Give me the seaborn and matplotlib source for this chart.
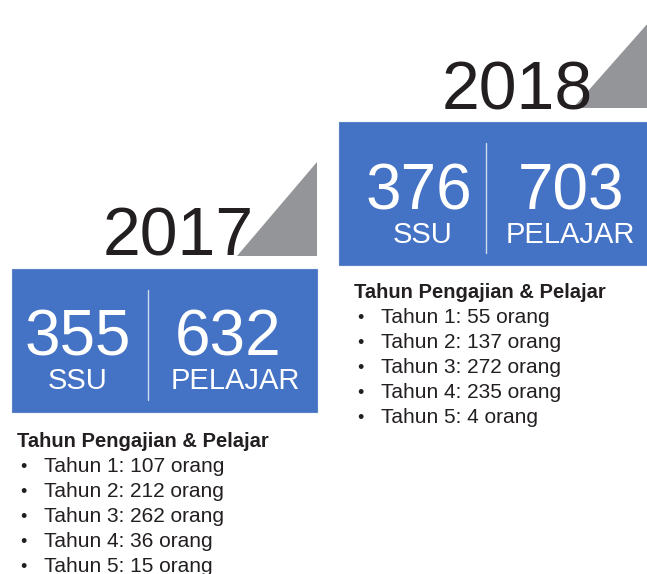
import matplotlib
matplotlib.use("Agg")
import matplotlib.pyplot as plt
from matplotlib.patches import Rectangle, Polygon
import seaborn as sns

# ---- data ----
years = ["2017", "2018"]
ssu_counts = [355, 376]
pelajar_counts = [632, 703]
list_title = "Tahun Pengajian & Pelajar"
study_years = ["Tahun 1", "Tahun 2", "Tahun 3", "Tahun 4", "Tahun 5"]
students_2017 = [107, 212, 262, 36, 15]
students_2018 = [55, 137, 272, 235, 4]
students_by_year = [students_2017, students_2018]

sns.set_theme(style="white")
plt.rcParams['font.family'] = ['Liberation Sans', 'DejaVu Sans']

W, H = 647, 574
fig = plt.figure(figsize=(W / 100, H / 100), dpi=100)
ax = fig.add_axes([0, 0, 1, 1])
ax.set_xlim(0, W)
ax.set_ylim(H, 0)
ax.axis("off")

BLUE = "#4472C4"
GRAY = "#939598"
DARK = "#231F20"

# layout for each panel (pixel coordinates)
panels = [
    dict(box=(12, 269, 317, 412), div_x=148, div_y=(290, 400),
         tri=[(317, 162), (317, 256), (237, 256)],
         year_xy=(178, 256), ssu_x=78, pel_x=235, num_x=(78, 228),
         num_base=356, lab_base=389,
         title_xy=(17, 447), bullet_x=20, item_x=44, item_base=472),
    dict(box=(339, 122, 648, 265), div_x=486, div_y=(143, 253),
         tri=[(649, 22), (649, 108), (573, 108)],
         year_xy=(517, 109), ssu_x=423, pel_x=570, num_x=(419, 571),
         num_base=210, lab_base=243,
         title_xy=(354, 298), bullet_x=357, item_x=381, item_base=323),
]

for p, yr, ssu, pel, studs in zip(panels, years, ssu_counts, pelajar_counts, students_by_year):
    x0, y0, x1, y1 = p["box"]
    ax.add_patch(Polygon(p["tri"], closed=True, color=GRAY, lw=0, zorder=1))
    ax.text(p["year_xy"][0], p["year_xy"][1], yr, fontsize=49, color=DARK,
            ha="center", va="baseline", zorder=3)
    ax.add_patch(Rectangle((x0, y0), x1 - x0, y1 - y0, facecolor=BLUE,
                           edgecolor="#5a82c8", lw=0.8, zorder=2))
    ax.plot([p["div_x"], p["div_x"]], p["div_y"], color="#d0dcf0", lw=1.0, zorder=3)
    ax.text(p["num_x"][0], p["num_base"], str(ssu), fontsize=46, color="white",
            ha="center", va="baseline", zorder=4)
    ax.text(p["num_x"][1], p["num_base"], str(pel), fontsize=46, color="white",
            ha="center", va="baseline", zorder=4)
    ax.text(p["ssu_x"], p["lab_base"], "SSU", fontsize=21, color="white",
            ha="center", va="baseline", zorder=4)
    ax.text(p["pel_x"], p["lab_base"], "PELAJAR", fontsize=21, color="white",
            ha="center", va="baseline", zorder=4)
    ax.text(p["title_xy"][0], p["title_xy"][1], list_title, fontsize=14.5,
            fontweight="bold", color=DARK, ha="left", va="baseline")
    for i, (sy, n) in enumerate(zip(study_years, studs)):
        yb = p["item_base"] + 25 * i
        ax.text(p["bullet_x"], yb, "•", fontsize=13, color=DARK, ha="left", va="baseline")
        ax.text(p["item_x"], yb, f"{sy}: {n} orang", fontsize=15, color=DARK,
                ha="left", va="baseline")

fig.savefig("out.png", dpi=100, facecolor="white")
